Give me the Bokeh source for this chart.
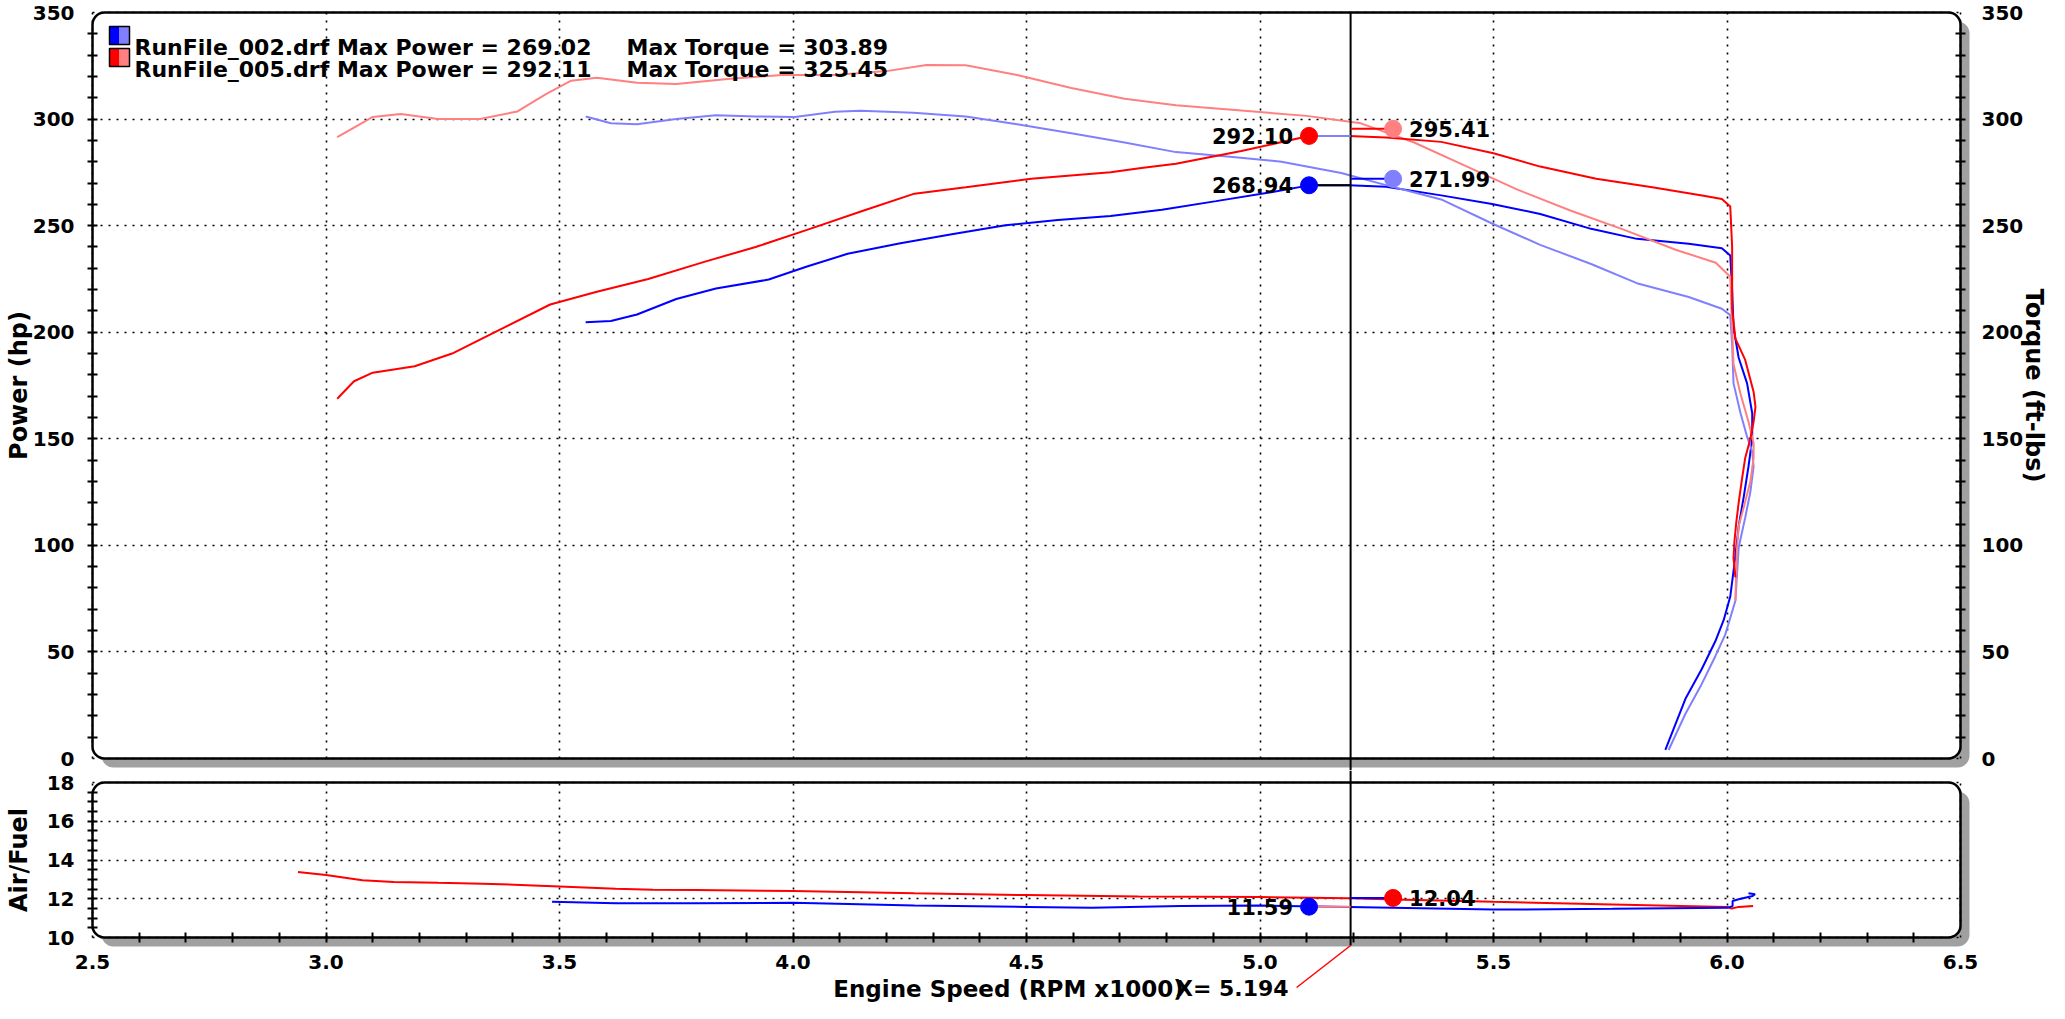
import numpy as np
from bokeh.plotting import figure
from bokeh.models import (Range1d, LinearAxis, FixedTicker, BoxAnnotation, Label,
                          NumeralTickFormatter, ColumnDataSource)
from bokeh.layouts import column
from bokeh.embed import file_html
from bokeh.resources import INLINE
from bokeh.core.properties import value

# ---------------- data ----------------
files = ["RunFile_002.drf", "RunFile_005.drf"]
max_power = [269.02, 292.11]
max_torque = [303.89, 325.45]

# RunFile_002 power (hp)
pw2_rpm = [3.556, 3.61, 3.666, 3.75, 3.835, 3.948, 4.03, 4.117, 4.23, 4.34, 4.455, 4.567,
           4.68, 4.79, 4.906, 5.02, 5.105, 5.19, 5.27, 5.388, 5.497, 5.60, 5.709, 5.807,
           5.918, 5.989, 6.007, 6.011, 6.014, 6.025, 6.043, 6.054, 6.054, 6.046, 6.036,
           6.025, 6.018, 6.007, 5.993, 5.975, 5.946, 5.911, 5.868]
pw2_hp = [204.7, 205.3, 208.3, 215.6, 220.5, 224.7, 230.8, 236.8, 241.7, 246.0, 250.2, 252.6,
          254.5, 257.5, 261.5, 265.5, 268.9, 269.0, 268.2, 264.2, 260.2, 255.5, 248.5, 243.8,
          241.5, 239.4, 236.0, 220.0, 202.0, 188.0, 176.0, 162.0, 150.0, 137.0, 123.0,
          109.0, 95.0, 76.0, 65.0, 55.0, 42.0, 28.0, 4.0]

# RunFile_002 torque (ft-lbs)
tq2_rpm = [3.556, 3.61, 3.666, 3.75, 3.835, 3.92, 4.004, 4.09, 4.145, 4.258, 4.37, 4.48,
           4.596, 4.71, 4.82, 4.93, 5.046, 5.174, 5.27, 5.388, 5.497, 5.60, 5.709, 5.807,
           5.918, 5.989, 6.007, 6.011, 6.014, 6.029, 6.043, 6.054, 6.057, 6.05, 6.039,
           6.025, 6.018, 5.996, 5.975, 5.946, 5.911, 5.875]
tq2_ft = [301.2, 298.0, 297.6, 300.0, 301.8, 301.2, 301.0, 303.4, 303.9, 303.0, 301.2, 297.6,
          293.3, 289.0, 284.5, 282.4, 280.0, 274.7, 269.0, 262.3, 251.0, 241.0, 232.0, 223.0,
          216.5, 211.0, 208.0, 194.0, 176.0, 162.0, 151.0, 144.0, 137.0, 125.0, 113.0,
          99.0, 74.0, 58.0, 48.0, 35.0, 21.0, 4.0]

# RunFile_005 power (hp)
pw5_rpm = [3.024, 3.06, 3.10, 3.19, 3.27, 3.38, 3.48, 3.58, 3.69, 3.81, 3.92, 4.03, 4.15,
           4.26, 4.37, 4.51, 4.68, 4.746, 4.82, 4.96, 5.105, 5.19, 5.27, 5.388, 5.50, 5.60,
           5.72, 5.84, 5.95, 5.989, 6.007, 6.011, 6.011, 6.018, 6.039, 6.057, 6.061, 6.057,
           6.05, 6.039, 6.032, 6.025, 6.02, 6.016, 6.014, 6.018]
pw5_hp = [168.8, 177.0, 181.0, 184.0, 190.0, 202.0, 213.0, 219.0, 225.0, 233.0, 240.0, 248.0,
          257.0, 265.0, 268.0, 272.0, 275.0, 277.0, 279.0, 285.0, 292.1, 292.0, 291.4, 289.3,
          284.0, 277.7, 272.0, 268.0, 264.0, 262.5, 259.0, 240.0, 211.0, 197.0, 187.0,
          172.0, 165.0, 158.0, 150.0, 141.0, 131.0, 120.0, 111.0, 102.0, 94.0, 85.0]

# RunFile_005 torque (ft-lbs)
tq5_rpm = [3.024, 3.06, 3.10, 3.16, 3.24, 3.33, 3.41, 3.47, 3.525, 3.58, 3.666, 3.75, 3.86,
           3.976, 4.09, 4.20, 4.286, 4.37, 4.48, 4.596, 4.71, 4.82, 4.96, 5.10, 5.216, 5.33,
           5.44, 5.55, 5.666, 5.78, 5.89, 5.976, 6.007, 6.011, 6.014, 6.029, 6.046, 6.057,
           6.057, 6.05, 6.036, 6.025, 6.021, 6.018]
tq5_ft = [291.5, 296.0, 301.0, 302.4, 300.0, 300.0, 303.6, 311.6, 318.0, 319.4, 317.0, 316.4,
          318.8, 320.7, 320.7, 322.5, 325.4, 325.3, 320.7, 314.6, 309.5, 306.5, 304.0, 301.5,
          298.0, 289.0, 278.0, 267.0, 257.0, 248.0, 238.7, 232.6, 226.0, 202.0, 185.0,
          171.0, 158.0, 148.0, 141.0, 130.0, 118.0, 109.0, 97.0, 74.0]

# Air/Fuel
afr2_rpm = [3.484, 3.62, 3.79, 4.0, 4.26, 4.5, 4.64, 4.83, 5.0, 5.19, 5.5, 5.755, 6.0,
            6.012, 6.012, 6.025, 6.055, 6.06, 6.046]
afr2 = [11.84, 11.77, 11.77, 11.79, 11.65, 11.58, 11.53, 11.62, 11.65, 11.58, 11.44, 11.48,
        11.53, 11.62, 11.88, 11.97, 12.14, 12.23, 12.28]
afr5_rpm = [2.94, 3.0, 3.078, 3.145, 3.24, 3.335, 3.43, 3.5, 3.62, 3.70, 3.79, 4.0, 4.26,
            4.5, 4.74, 5.0, 5.19, 5.31, 5.5, 5.755, 6.0, 6.01, 6.025, 6.056]
afr5 = [13.38, 13.23, 12.95, 12.87, 12.82, 12.78, 12.70, 12.63, 12.51, 12.46, 12.45, 12.40,
        12.28, 12.19, 12.12, 12.09, 12.02, 11.95, 11.84, 11.70, 11.57, 11.50, 11.58, 11.63]

# cursor and markers
cursor_rpm = 5.194
mk_left_rpm = 5.105
mk_right_rpm = 5.285
mk_power = [292.10, 268.94]
mk_torque = [295.41, 271.99]
mk_afr_left = 11.59
mk_afr_right = 12.04

# ticks
power_ticks = [0, 50, 100, 150, 200, 250, 300, 350]
afr_ticks = [10, 12, 14, 16, 18]
rpm_ticks = [2.5, 3.0, 3.5, 4.0, 4.5, 5.0, 5.5, 6.0, 6.5]

X0, X1 = 2.5, 6.5
P0, P1 = 0, 350
A0, A1 = 10, 18

# ---------------- layout / style ----------------
C_BLUE, C_LBLUE, C_RED, C_PINK = "#0000FF", "#8080FF", "#FF0000", "#FF8080"
FONT = "DejaVu Sans"
W = 2049
ML = 92            # room left of the panels (px)
PW = 1868          # panel width (px)
SH = 9             # shadow offset (px)
PH_U = 746         # upper panel height (px)
PH_L = 155         # lower panel height (px)
EXT_B = 65         # room under lower panel for the x axis (px)
TOPB = 12
BOTU = 12          # room under the upper panel
LW = 2
RADIUS = 12

ux = (X1 - X0) / PW
uy_u = (P1 - P0) / PH_U
uy_l = (A1 - A0) / PH_L

x_range_full = (X0 - ML * ux, X0 + (W - ML) * ux)


def decorate(p, y0, y1, uy):
    shadow = BoxAnnotation(left=X0 + SH * ux, right=X1 + SH * ux, top=y1 - SH * uy,
                           bottom=y0 - SH * uy, fill_color="#A0A0A0", fill_alpha=1.0,
                           line_color=None, border_radius=RADIUS, level="image")
    panel = BoxAnnotation(left=X0, right=X1, top=y1, bottom=y0, fill_color="white",
                          fill_alpha=1.0, line_color=None, border_radius=RADIUS, level="image")
    p.add_layout(shadow)
    p.add_layout(panel)


def outline(p, y0, y1):
    p.add_layout(BoxAnnotation(left=X0, right=X1, top=y1, bottom=y0, fill_color=None,
                               fill_alpha=0, line_color="black", line_alpha=1.0,
                               line_width=2.5, border_radius=RADIUS, level="annotation"))


def style_axis(ax, majors, minors, fmt, standoff):
    ax.ticker = FixedTicker(ticks=majors, minor_ticks=minors)
    ax.formatter = fmt
    ax.axis_line_color = None
    ax.major_tick_in = 0
    ax.major_tick_out = 0
    ax.minor_tick_in = 5
    ax.minor_tick_out = 5
    ax.minor_tick_line_color = "black"
    ax.minor_tick_line_width = 2
    ax.major_label_text_font = FONT
    ax.major_label_text_font_style = "bold"
    ax.major_label_text_font_size = "20px"
    ax.major_label_text_color = "black"
    ax.major_label_standoff = standoff


def style_grid(p, xt, yt, ybounds):
    p.xgrid.ticker = FixedTicker(ticks=xt)
    p.ygrid.ticker = FixedTicker(ticks=yt)
    for g, b, cb in ((p.xgrid[0], (X0, X1), ybounds), (p.ygrid[0], ybounds, (X0, X1))):
        g.bounds = b
        if "cross_bounds" in g.properties():
            g.cross_bounds = cb
        g.grid_line_color = "black"
        g.grid_line_dash = "2 6"
        g.grid_line_width = 1.6
        g.level = "underlay"


def title_label(p, x, xoff, y, yoff, text, angle=0.0, size="24px"):
    p.add_layout(Label(x=x, y=y, x_offset=xoff, y_offset=yoff, text=text, angle=angle,
                       text_align="center", text_baseline="middle", text_font=FONT,
                       text_font_style="bold", text_font_size=size, text_color="black"))


# ---------------- upper panel (frame spans the whole canvas) ----------------
UH = TOPB + PH_U + BOTU
y_up = (P0 - BOTU * uy_u, P1 + TOPB * uy_u)
up = figure(width=W, height=UH, x_range=Range1d(*x_range_full), y_range=Range1d(*y_up),
            output_backend="svg", toolbar_location=None, tools="",
            min_border_left=0, min_border_right=0, min_border_top=0, min_border_bottom=0,
            x_axis_location=None, background_fill_color="white", border_fill_color="white")
up.outline_line_color = None
decorate(up, P0, P1, uy_u)
style_grid(up, rpm_ticks, power_ticks, (P0, P1))

up.extra_y_ranges = {"tq": Range1d(*y_up)}
rax = LinearAxis(y_range_name="tq")
up.add_layout(rax, "right")
power_minor = list(range(10, 350, 10))
lax = up.yaxis[0]
style_axis(lax, power_ticks, power_minor, NumeralTickFormatter(format="0"), 13)
lax.fixed_location = X0
lax.bounds = (P0, P1)
style_axis(rax, power_ticks, power_minor, NumeralTickFormatter(format="0"), 16)
rax.fixed_location = X1
rax.bounds = (P0, P1)
title_label(up, X0, -74, (P0 + P1) / 2, 0, "Power (hp)", np.pi / 2)
title_label(up, X1, 73, (P0 + P1) / 2, 0, "Torque (ft-lbs)", -np.pi / 2)

up.line(pw2_rpm, pw2_hp, line_color=C_BLUE, line_width=LW)
up.line(tq2_rpm, tq2_ft, line_color=C_LBLUE, line_width=LW, y_range_name="tq")
up.line(tq5_rpm, tq5_ft, line_color=C_PINK, line_width=LW, y_range_name="tq")
up.line(pw5_rpm, pw5_hp, line_color=C_RED, line_width=LW)

# cursor through the whole upper panel (and the gap under it)
up.segment(x0=[cursor_rpm], y0=[P1], x1=[cursor_rpm], y1=[P0 - BOTU * uy_u],
           line_color="black", line_width=2)

seg = ColumnDataSource(dict(
    x0=[mk_left_rpm, cursor_rpm, mk_left_rpm, cursor_rpm],
    x1=[cursor_rpm, mk_right_rpm, cursor_rpm, mk_right_rpm],
    y=[mk_power[0], mk_torque[0], mk_power[1], mk_torque[1]],
    c=[C_LBLUE, C_RED, "black", C_BLUE]))
up.segment(x0="x0", y0="y", x1="x1", y1="y", line_color="c", line_width=2, source=seg)

lsrc = ColumnDataSource(dict(x=[mk_left_rpm] * 2, y=mk_power, c=[C_RED, C_BLUE],
                             t=[f"{v:.2f}" for v in mk_power]))
rsrc = ColumnDataSource(dict(x=[mk_right_rpm] * 2, y=mk_torque, c=[C_PINK, C_LBLUE],
                             t=[f"{v:.2f}" for v in mk_torque]))
up.scatter(x="x", y="y", size=17, fill_color="c", line_color="c", source=lsrc)
up.scatter(x="x", y="y", size=17, fill_color="c", line_color="c", source=rsrc)
up.text(x="x", y="y", text="t", x_offset=-16, text_align="right", text_baseline="middle",
        text_font=value(FONT), text_font_style="bold", text_font_size="21px",
        text_color="black", source=lsrc)
up.text(x="x", y="y", text="t", x_offset=16, text_align="left", text_baseline="middle",
        text_font=value(FONT), text_font_style="bold", text_font_size="21px",
        text_color="black", source=rsrc)

# legend (swatches + texts), placed relative to the panel's top-left corner
sw_cols = [(C_BLUE, C_LBLUE), (C_RED, C_PINK)]
for i in range(2):
    top = P1 - (14 + 22 * i) * uy_u
    bot = top - 18 * uy_u
    dark, light = sw_cols[i]
    up.add_layout(BoxAnnotation(left=X0 + 17 * ux, right=X0 + 27 * ux, top=top, bottom=bot,
                                fill_color=dark, fill_alpha=1, line_color=None,
                                level="annotation"))
    up.add_layout(BoxAnnotation(left=X0 + 27 * ux, right=X0 + 37 * ux, top=top, bottom=bot,
                                fill_color=light, fill_alpha=1, line_color=None,
                                level="annotation"))
    up.add_layout(BoxAnnotation(left=X0 + 17 * ux, right=X0 + 37 * ux, top=top, bottom=bot,
                                fill_color=None, fill_alpha=0, line_color="black",
                                line_alpha=1, line_width=1.5, level="annotation"))
    base = -(35 + 22 * i)
    up.add_layout(Label(x=X0, y=P1, x_offset=42, y_offset=base,
                        text=f"{files[i]} Max Power = {max_power[i]:.2f}",
                        text_font=FONT, text_font_style="bold", text_font_size="22px",
                        text_color="black", text_baseline="alphabetic"))
    up.add_layout(Label(x=X0, y=P1, x_offset=534, y_offset=base,
                        text=f"Max Torque = {max_torque[i]:.2f}",
                        text_font=FONT, text_font_style="bold", text_font_size="22px",
                        text_color="black", text_baseline="alphabetic"))

outline(up, P0, P1)

# ---------------- lower panel (frame spans the whole canvas) ----------------
LH = TOPB + PH_L + EXT_B
lo = figure(width=W, height=LH, x_range=Range1d(*x_range_full),
            y_range=Range1d(A0 - EXT_B * uy_l, A1 + TOPB * uy_l),
            output_backend="svg", toolbar_location=None, tools="",
            min_border_left=0, min_border_right=0, min_border_top=0, min_border_bottom=0,
            background_fill_color="white", border_fill_color="white")
lo.outline_line_color = None
decorate(lo, A0, A1, uy_l)
style_grid(lo, rpm_ticks, afr_ticks, (A0, A1))

ylax = lo.yaxis[0]
style_axis(ylax, afr_ticks, list(np.arange(10.5, 17.75, 0.5)),
           NumeralTickFormatter(format="0"), 13)
ylax.fixed_location = X0
ylax.bounds = (A0, A1)
title_label(lo, X0, -74, (A0 + A1) / 2, 0, "Air/Fuel", np.pi / 2)

xax = lo.xaxis[0]
style_axis(xax, rpm_ticks, [round(v, 1) for v in np.arange(2.6, 6.45, 0.1)],
           NumeralTickFormatter(format="0.0"), 12)
xax.fixed_location = A0
xax.bounds = (X0, X1)
title_label(lo, X0, 916, A0, -51, "Engine Speed (RPM x1000)", 0.0, size="23px")

lo.line(afr5_rpm, afr5, line_color=C_RED, line_width=LW)
lo.line(afr2_rpm, afr2, line_color=C_BLUE, line_width=LW)

# cursor (runs a little below the panel, then the red pointer to the readout)
lo.segment(x0=[cursor_rpm], y0=[A1 + TOPB * uy_l], x1=[cursor_rpm], y1=[A0 - 8 * uy_l],
           line_color="black", line_width=2)
lo.segment(x0=[cursor_rpm], y0=[A0 - 8 * uy_l], x1=[cursor_rpm - 54 * ux],
           y1=[A0 - 50 * uy_l], line_color=C_RED, line_width=1.5)

lo.segment(x0=[mk_left_rpm, cursor_rpm], y0=[mk_afr_left, mk_afr_right],
           x1=[cursor_rpm, mk_right_rpm], y1=[mk_afr_left, mk_afr_right],
           line_color=[C_PINK, C_BLUE], line_width=2)
asrc = ColumnDataSource(dict(x=[mk_left_rpm, mk_right_rpm], y=[mk_afr_left, mk_afr_right],
                             c=[C_BLUE, C_RED],
                             t=[f"{mk_afr_left:.2f}", f"{mk_afr_right:.2f}"],
                             off=[-16, 16], al=["right", "left"]))
lo.scatter(x="x", y="y", size=17, fill_color="c", line_color="c", source=asrc)
lo.text(x="x", y="y", text="t", x_offset="off", text_align="al", text_baseline="middle",
        text_font=value(FONT), text_font_style="bold", text_font_size="21px",
        text_color="black", source=asrc)

outline(lo, A0, A1)

lo.add_layout(Label(x=cursor_rpm, y=A0, x_offset=-62, y_offset=-51,
                    text=f"X= {cursor_rpm:.3f}", text_align="right", text_baseline="middle",
                    text_font=FONT, text_font_style="bold", text_font_size="22px",
                    text_color="black"))

layout = column(up, lo)
open("out.html", "w").write(file_html(layout, INLINE))
